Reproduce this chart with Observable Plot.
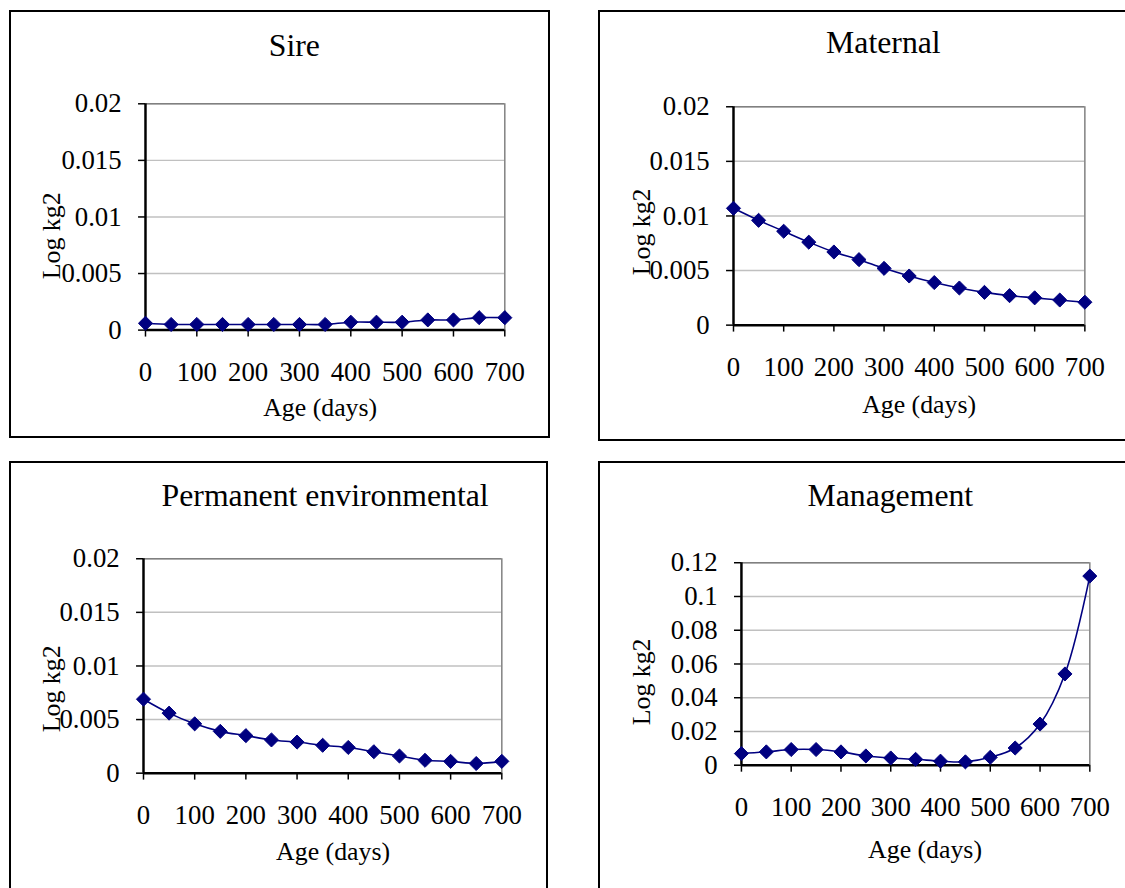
<!DOCTYPE html>
<html>
<head>
<meta charset="utf-8">
<script src="https://cdn.jsdelivr.net/npm/d3@7"></script>
<script src="https://cdn.jsdelivr.net/npm/@observablehq/plot@0.6"></script>
<style>
  html, body { margin: 0; padding: 0; background: #fff; overflow: hidden; }
  #page { position: relative; width: 1125px; height: 888px; overflow: hidden; background: #fff; }
  .panel { position: absolute; border: 2px solid #000; box-sizing: border-box; overflow: hidden; }
  .panel svg { position: absolute; left: -2px; top: -2px; }
</style>
</head>
<body>
<div id="page"></div>
<script>
// ---- data ----
const ages = [0, 50, 100, 150, 200, 250, 300, 350, 400, 450, 500, 550, 600, 650, 700];
const sire = [0.0006, 0.0005, 0.0005, 0.0005, 0.0005, 0.0005, 0.0005, 0.0005, 0.0007, 0.0007, 0.0007, 0.0009, 0.0009, 0.0011, 0.0011];
const maternal = [0.0107, 0.0096, 0.0086, 0.0076, 0.0067, 0.0060, 0.0052, 0.0045, 0.0039, 0.0034, 0.0030, 0.0027, 0.0025, 0.0023, 0.0021];
const permEnv = [0.0069, 0.0056, 0.0046, 0.0039, 0.0035, 0.0031, 0.0029, 0.0026, 0.0024, 0.0020, 0.0016, 0.0012, 0.0011, 0.0009, 0.0011];
const management = [0.0069, 0.0079, 0.0093, 0.0093, 0.0079, 0.0055, 0.0043, 0.0035, 0.0024, 0.0020, 0.0047, 0.0102, 0.0244, 0.0541, 0.1121];
const titles = ["Sire", "Maternal", "Permanent environmental", "Management"];
const xTicks = [0, 100, 200, 300, 400, 500, 600, 700];
const yTicksSmall = [0, 0.005, 0.01, 0.015, 0.02];
const yTicksLarge = [0, 0.02, 0.04, 0.06, 0.08, 0.1, 0.12];
const xLabel = "Age (days)";
const yLabel = "Log kg2";

// ---- layout (page pixels) ----
const panels = [
  {series: sire, title: titles[0], yTicks: yTicksSmall,
   box: [9, 10, 541, 428], plot: [146, 104, 508, 332], titleX: 296, titleY: 56, xLabX: 322, xLabY: 419, yLabX: 52, yLabY: 237},
  {series: maternal, title: titles[1], yTicks: yTicksSmall,
   box: [598, 10, 540, 431], plot: [734, 107, 1088, 327], titleX: 885, titleY: 53, xLabX: 921, xLabY: 416, yLabX: 642, yLabY: 233},
  {series: permEnv, title: titles[2], yTicks: yTicksSmall,
   box: [9, 461, 539, 440], plot: [144, 559, 505, 775], titleX: 327, titleY: 506, xLabX: 335, xLabY: 862, yLabX: 52, yLabY: 690},
  {series: management, title: titles[3], yTicks: yTicksLarge,
   box: [598, 461, 540, 440], plot: [742, 563, 1093, 767], titleX: 892, titleY: 506, xLabX: 927, xLabY: 860, yLabX: 642, yLabY: 683}
];

const fmt = d => String(+d.toFixed(4));
const navy = "#000080";
const font = "Liberation Serif, Times New Roman, serif";

const page = document.getElementById("page");
for (const p of panels) {
  const [bx, by, bw, bh] = p.box;
  const [pl, pt, pr, pb] = p.plot;
  const data = ages.map((a, i) => ({age: a, v: p.series[i]}));
  const yMax = p.yTicks[p.yTicks.length - 1];
  const plotCx = (pl + pr) / 2;
  const plotCy = (pt + pb) / 2;
  const chart = Plot.plot({
    width: bw, height: bh,
    marginLeft: pl - bx, marginRight: bx + bw - pr,
    marginTop: pt - by, marginBottom: by + bh - pb,
    style: {fontFamily: font, fontSize: "27px", color: "#000", background: "transparent", overflow: "visible"},
    x: {domain: [0, 700]},
    y: {domain: [0, yMax]},
    marks: [
      Plot.gridY(p.yTicks, {stroke: "#c0c0c0", strokeOpacity: 1, strokeWidth: 1.5}),
      Plot.ruleY([yMax], {stroke: "#808080", strokeWidth: 1.5}),
      Plot.ruleX([700], {stroke: "#808080", strokeWidth: 1.5}),
      Plot.axisY({ticks: p.yTicks, tickFormat: fmt, tickSize: 7, tickPadding: 17, strokeWidth: 1.5, fontSize: 27, label: null}),
      Plot.axisX({ticks: xTicks, tickFormat: fmt, tickSize: 7, tickPadding: 25, strokeWidth: 1.5, fontSize: 27, label: null}),
      Plot.ruleX([0], {stroke: "#000", strokeWidth: 2.5}),
      Plot.ruleY([0], {stroke: "#000", strokeWidth: 2.5}),
      Plot.line(data, {x: "age", y: "v", stroke: navy, strokeWidth: 1.6, curve: "catmull-rom"}),
      Plot.dot(data, {x: "age", y: "v", symbol: "diamond2", r: 6.4, fill: navy, stroke: navy, strokeWidth: 1}),
      Plot.text([p.title], {frameAnchor: "top", dx: p.titleX - plotCx, dy: p.titleY - pt, lineAnchor: "bottom", fontSize: 32, fill: "#000"}),
      Plot.text([xLabel], {frameAnchor: "bottom", dx: p.xLabX - plotCx, dy: p.xLabY - pb, lineAnchor: "bottom", fontSize: 26, fill: "#000"}),
      Plot.text([yLabel], {frameAnchor: "left", textAnchor: "middle", lineAnchor: "middle", dx: p.yLabX - pl, dy: p.yLabY - plotCy, rotate: -90, fontSize: 26, fill: "#000"})
    ]
  });
  const div = document.createElement("div");
  div.className = "panel";
  div.style.left = bx + "px";
  div.style.top = by + "px";
  div.style.width = bw + "px";
  div.style.height = bh + "px";
  div.appendChild(chart);
  page.appendChild(div);
}
</script>
</body>
</html>
